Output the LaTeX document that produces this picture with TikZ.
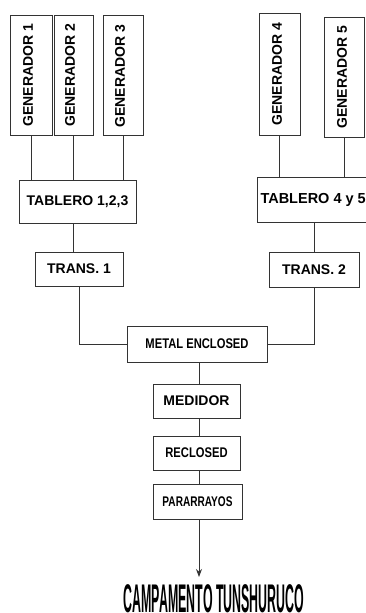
\documentclass[tikz,border=0pt]{standalone}
\usepackage{fontspec}
\setmainfont{Liberation Sans}
\usetikzlibrary{calc, positioning}
\usetikzlibrary{arrows.meta}

\tikzset{
  unit/.style={draw=black!80, line width=1pt, inner sep=0pt,
    font=\bfseries\fontsize{14}{16}\selectfont},
  genbox/.style={unit, minimum width=40, minimum height=120},
  wire/.style={draw=black!80, line width=1pt},
}
\newcommand{\narrow}[2]{\scalebox{#1}[1]{#2}}

\begin{document}
\begin{tikzpicture}[x=1pt,y=-1pt]
\useasboundingbox (0,0) rectangle (365,613);

\node[genbox, minimum width=42] (g1) at (31,75) {};
\node[genbox, minimum width=39] (g2) at (73.5,75) {};
\node[genbox] (g3) at (123,75.5) {};
\node[genbox, minimum width=41, minimum height=122] (g4) at (279.5,74) {};
\node[genbox] (g5) at (344,77) {};

\node[rotate=90, font=\bfseries\fontsize{14}{16}\selectfont] at (28,75) {GENERADOR 1};
\node[rotate=90, font=\bfseries\fontsize{14}{16}\selectfont] at (70,75) {GENERADOR 2};
\node[rotate=90, font=\bfseries\fontsize{14}{16}\selectfont] at (120,76) {GENERADOR 3};
\node[rotate=90, font=\bfseries\fontsize{14}{16}\selectfont] at (277,74) {GENERADOR 4};
\node[rotate=90, font=\bfseries\fontsize{14}{16}\selectfont] at (342,77) {GENERADOR 5};

\node[unit, minimum width=117, minimum height=43] (t1) at (77.5,201.5) {TABLERO 1,2,3};
\node[unit, anchor=west, inner xsep=3, minimum height=45,
  font=\bfseries\fontsize{14.5}{16}\selectfont] (t2) at (257,199.5) {TABLERO 4 y 5};

\node[unit, minimum width=88, minimum height=34] (tr1) at (79,269) {TRANS. 1};
\node[unit, minimum width=90, minimum height=35] (tr2) at (314,269.5) {TRANS. 2};

\node[unit, minimum width=140, minimum height=36] (me) at (197,344) {\narrow{0.8}{METAL ENCLOSED}};
\node[unit, minimum width=87, minimum height=34] (med) at (196.5,401) {MEDIDOR};
\node[unit, minimum width=87, minimum height=34] (rec) at (196.5,453) {\narrow{0.8}{RECLOSED}};
\node[unit, minimum width=89, minimum height=35] (par) at (197.5,501.5) {\narrow{0.72}{PARARRAYOS}};

\coordinate (tip) at (199,577);
\node[anchor=north, inner sep=0pt, font=\bfseries\fontsize{40}{44}\selectfont] (camp) at (214,584)
  {\narrow{0.31}{CAMPAMENTO TUNSHURUCO}};

\draw[wire] (g1.south) -- (g1.south |- t1.north);
\draw[wire] (g2.south) -- (g2.south |- t1.north);
\draw[wire] (g3.south) -- (g3.south |- t1.north);
\draw[wire] (g4.south) -- (g4.south |- t2.north);
\draw[wire] (g5.south) -- (g5.south |- t2.north);

\draw[wire] ([xshift=-6]tr1.north) -- ([xshift=-6]tr1.north |- t1.south);
\draw[wire] (tr2.north) -- (tr2.north |- t2.south);

\draw[wire] (tr1.south) |- (me.west);
\draw[wire] (tr2.south) |- (me.east);

\draw[wire] ([xshift=2]me.south) -- ([xshift=2]me.south |- med.north);
\draw[wire] ([xshift=2.5]med.south) -- ([xshift=2.5]med.south |- rec.north);
\draw[wire] ([xshift=2.5]rec.south) -- ([xshift=2.5]rec.south |- par.north);
\draw[wire, -{Stealth[length=8pt, width=6pt]}] ([xshift=1.5]par.south) -- (tip);
\end{tikzpicture}
\end{document}
